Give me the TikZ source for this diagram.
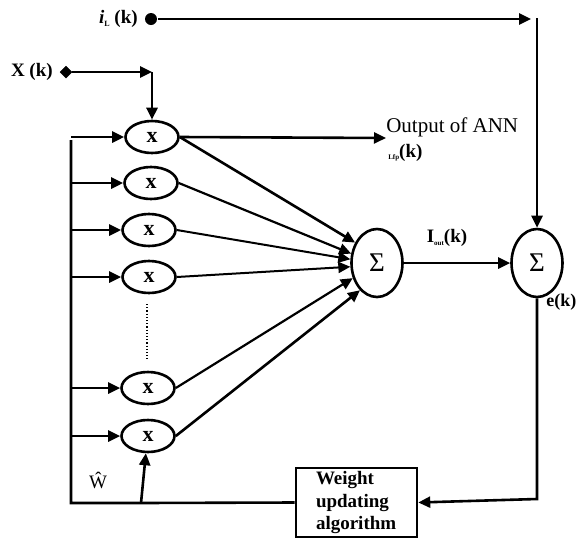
\documentclass[tikz,border=0pt]{standalone}
\usepackage{fontspec}
\setmainfont{Liberation Serif}
\usetikzlibrary{arrows.meta,shapes.geometric,calc}
\begin{document}
\begin{tikzpicture}[x=1pt,y=-1pt,
  line width=2.6pt,
  arr/.style={-{Triangle[length=12pt,width=11pt]}},
  mult/.style={draw,ellipse,minimum width=53pt,minimum height=32pt,inner sep=0pt,font=\fontsize{22}{22}\selectfont\bfseries},
  sumn/.style={draw,ellipse,minimum width=51pt,minimum height=68pt,inner sep=0pt,font=\fontsize{27}{27}\selectfont},
  lbl/.style={font=\fontsize{19}{22}\selectfont\bfseries,inner sep=0pt}]
\useasboundingbox (0,0) rectangle (576,539);
% multiplier nodes
\node[mult] (n1) at (152,137) {x};
\node[mult] (n2) at (151,183) {x};
\node[mult] (n3) at (149,230) {x};
\node[mult] (n4) at (149,277) {x};
\node[mult] (n5) at (148,388) {x};
\node[mult] (n6) at (148,436) {x};
% summation nodes
\node[sumn] (s1) at (377,263) {Σ};
\node[sumn] (s2) at (537,263) {Σ};
% weight box
\node[draw,minimum width=121pt,minimum height=69pt,inner xsep=20pt,text width=81pt,align=left,
      font=\fontsize{19}{22.5}\selectfont\bfseries] (wb) at (356.5,502.5) {Weight\\updating\\algorithm};
% inputs
\node[draw,diamond,fill=black,minimum size=12pt,inner sep=0pt,line width=0.5pt] (xd) at (66,72) {};
\node[lbl,anchor=east] (xl) at (54,72) {X (k)};
\coordinate (xc) at (152,72);
\node[circle,fill=black,minimum size=12pt,inner sep=0pt] (id) at (151,19) {};
\node[lbl,anchor=east] (il) at (139,19) {{\itshape i}\raisebox{-3pt}{\fontsize{8}{8}\selectfont L} (k)};
\coordinate (iend) at (531,19);
\coordinate (topR) at (537,18);
% bus and feedback
\coordinate (busTop) at (71,140);
\coordinate (busBot) at (71,503);
\coordinate (wj) at (141,503);
\coordinate (rc) at (537,499);
% output label
\coordinate (oend) at (386,138);
\node[lbl,anchor=west,font=\fontsize{21}{22}\selectfont] (ol) at (385,127) {Output of ANN};
\node[lbl,anchor=west] (ol2) at (387,153) {\raisebox{-2pt}{\fontsize{7}{7}\selectfont Lfp}(k)};
\node[lbl] (iout) at (447,238) {I\raisebox{-3pt}{\fontsize{7}{7}\selectfont out}(k)};
\node[lbl,anchor=west,font=\fontsize{18}{20}\selectfont\bfseries] (ek) at (545,302) {e(k)};
\node[lbl,font=\fontsize{19}{19}\selectfont] (wh) at (98,480) {Ŵ};
% dotted
\coordinate (dt) at (147,304);
\coordinate (db) at (147,359);
\draw[line width=1.2pt,dotted] (dt) -- (db);
% connectors
\draw[arr] (id) -- (iend);
\draw[arr] (topR) -- (s2.north);
\draw[arr] (xd) -- (xc);
\draw[arr] (xc) -- (n1.north);
\draw (busTop) -- (busBot) -- (wj) -- (wb.west);
\foreach \n in {n1,n2,n3,n4,n5,n6} {\draw[arr] (\n.west -| busTop) -- (\n.west);}
\draw[arr] (wj) -- (n6.263);
\draw[arr] (n1.east) -- (oend);
\draw[arr,line width=2.6pt] (n1.east) -- (s1.137);
\draw[arr,line width=2.2pt] (n2.east) -- (s1.160);
\draw[arr,line width=2pt] (n3.east) -- (s1.172);
\draw[arr,line width=2pt] (n4.east) -- (s1.188);
\draw[arr,line width=2.2pt] (n5.east) -- (s1.212);
\draw[arr,line width=2.6pt] (n6.east) -- (s1.238);
\draw[arr] (s1.east) -- (s2.west);
\draw[arr] (s2.south) -- (rc) -- (wb.east);
\end{tikzpicture}
\end{document}
